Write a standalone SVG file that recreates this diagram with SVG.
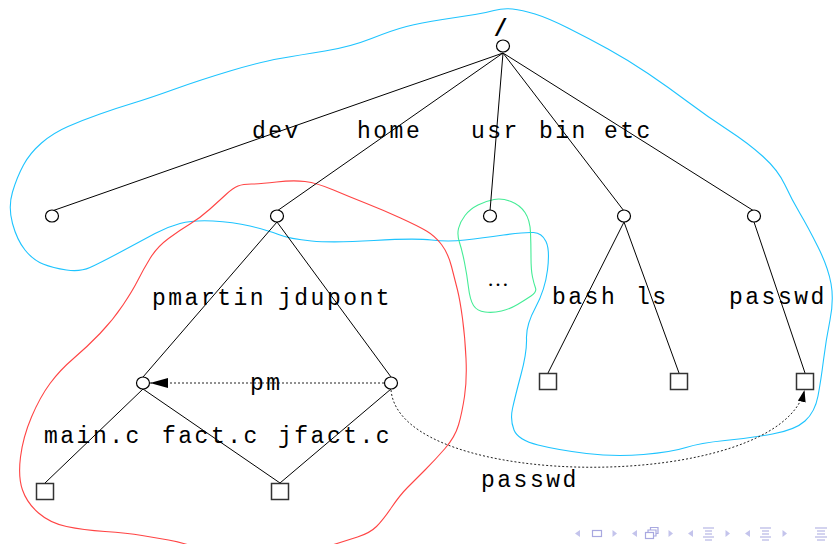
<svg xmlns="http://www.w3.org/2000/svg" width="835" height="544" viewBox="0 0 835 544">
  <style>
    .edge { stroke: #000; stroke-width: 1; fill: none; }
    .link { stroke: #222; stroke-width: 1; fill: none; stroke-dasharray: 2 2; }
    .dir { fill: #fff; stroke: #000; stroke-width: 1.2; }
    .file { fill: #fff; stroke: #333; stroke-width: 1.5; }
    .lbl { font-family: "Liberation Mono", "DejaVu Sans Mono", monospace; font-size: 23px; letter-spacing: 2.5px; fill: #000; }
    .zone { fill: none; stroke-width: 1.1; }
    .nav { fill: #c4c4ec; stroke: none; }
    .navs { fill: none; stroke: #a8a8e0; stroke-width: 1.2; }
  </style>
  <defs>
    <marker id="head" viewBox="0 0 10 10" refX="10" refY="5" markerUnits="userSpaceOnUse" markerWidth="18" markerHeight="10" preserveAspectRatio="none" orient="auto">
      <path d="M0,0 L10,5 L0,10 Z" fill="#000"/>
    </marker>
    <marker id="head-small" viewBox="0 0 10 10" refX="10" refY="5" markerUnits="userSpaceOnUse" markerWidth="12" markerHeight="8" preserveAspectRatio="none" orient="auto">
      <path d="M0,0 L10,5 L0,10 Z" fill="#000"/>
    </marker>
  </defs>
  <rect width="835" height="544" fill="#fff"/>

  <!-- outlined regions of the tree -->
  <g id="regions">
    <path class="zone" stroke="#1ec4ff" d="M512.5,9 Q522,10 535,14 Q548,18 568,28 Q588,38 608,49 Q628,60 648,73.5 Q668,87 688,102 Q708,117 728,130 Q748,143 763,156.5 Q778,170 785,185 Q792,200 800,213.5 Q808,227 818,247 Q828,267 831,283.5 Q834,300 830,320 Q826,340 823.5,360 Q821,380 818,396 Q815,412 805,421 Q795,430 772.5,434 Q750,438 725,440.5 Q700,443 686,447.5 Q672,452 643.5,454.5 Q615,457 586.5,453.5 Q558,450 538,445 Q518,440 514,430 Q510,420 512.5,408.5 Q515,397 521,374.5 Q527,352 526.5,338.5 Q526,325 535.5,307.5 Q545,290 547.5,270 Q550,250 546,241.5 Q542,233 533.5,232.5 Q525,232 503.5,235 Q482,238 465,240 Q448,242 431.5,240 Q415,238 374,240.5 Q333,243 311.5,241 Q290,239 278.5,234.5 Q267,230 250,226 Q233,222 213,221 Q193,220 180,223.5 Q167,227 155,233.5 Q143,240 121.5,251.5 Q100,263 90,267.5 Q80,272 66.5,270 Q53,268 43,264 Q33,260 25,250 Q17,240 12.5,223.5 Q8,207 12.5,192 Q17,177 23.5,165 Q30,153 41.5,143 Q53,133 68,126.5 Q83,120 100,114 Q117,108 133.5,103 Q150,98 175,89 Q200,80 230,71 Q260,62 280,58.5 Q300,55 325,51 Q350,47 371.5,38.5 Q393,30 406.5,26.5 Q420,23 442.5,19.5 Q465,16 475,14.5 Q485,13 494,10.5 Q503,8 512.5,9 Z"/>
    <path class="zone" stroke="#ff4444" d="M251.5,184 Q260,184 276.5,182 Q293,180 305,181.5 Q317,183 333.5,190 Q350,197 366.5,203.5 Q383,210 400.5,218 Q418,226 426.5,231 Q435,236 441.5,244.5 Q448,253 451.5,266.5 Q455,280 457.5,290 Q460,300 462.5,318.5 Q465,337 466,358.5 Q467,380 464.5,396.5 Q462,413 458.5,425 Q455,437 445,448.5 Q435,460 425,470 Q415,480 407.5,487.5 Q400,495 391.5,507.5 Q383,520 376.5,526.5 Q370,533 357.5,537 Q345,541 327.5,546.5 Q310,552 285,555 Q260,558 235,555 Q210,552 195,547 Q180,542 168.5,540 Q157,538 142,535.5 Q127,533 105,531.5 Q83,530 66.5,526.5 Q50,523 38.5,513 Q27,503 22.5,490 Q18,477 20.5,457 Q23,437 31.5,417 Q40,397 50,383.5 Q60,370 73.5,358.5 Q87,347 100,333.5 Q113,320 123,305 Q133,290 138,280 Q143,270 150,258.5 Q157,247 168.5,238.5 Q180,230 190,224 Q200,218 210,209 Q220,200 226.5,194 Q233,188 238,186 Q243,184 251.5,184 Z"/>
    <path class="zone" stroke="#44ec96" d="M478,205 Q486,201 494,199.5 Q502,198 511,201.5 Q520,205 525,212.5 Q530,220 530.5,232.5 Q531,245 531,257.5 Q531,270 532.5,277 Q534,284 535.5,288 Q537,292 531,296 Q525,300 517.5,304.5 Q510,309 501.5,311 Q493,313 485,312 Q477,311 473.5,305.5 Q470,300 468.5,287.5 Q467,275 464.5,262.5 Q462,250 459.5,242.5 Q457,235 458.5,228.5 Q460,222 465,215.5 Q470,209 478,205 Z"/>
  </g>

  <!-- tree edges and links -->
  <g id="connectors">
    <line class="edge" x1="503" y1="53" x2="52" y2="211"/>
    <line class="edge" x1="503" y1="53" x2="277" y2="211"/>
    <line class="edge" x1="503" y1="53" x2="490" y2="211"/>
    <line class="edge" x1="503" y1="53" x2="624" y2="211"/>
    <line class="edge" x1="503" y1="53" x2="754" y2="211"/>
    <line class="edge" x1="277" y1="222" x2="143" y2="377"/>
    <line class="edge" x1="277" y1="222" x2="391" y2="377"/>
    <line class="edge" x1="624" y1="222" x2="548" y2="373"/>
    <line class="edge" x1="624" y1="222" x2="679" y2="373"/>
    <line class="edge" x1="754" y1="222" x2="805" y2="373"/>
    <line class="edge" x1="143" y1="389" x2="45" y2="483"/>
    <line class="edge" x1="143" y1="389" x2="280" y2="483"/>
    <line class="edge" x1="391" y1="389" x2="280" y2="483"/>
    <line class="link" x1="384" y1="383" x2="150" y2="383" marker-end="url(#head)"/>
    <path class="link" d="M391,390 C400,493 780,493 804.5,390" marker-end="url(#head-small)"/>
  </g>

  <!-- directories -->
  <g id="n-root"><ellipse class="dir" cx="503" cy="46" rx="6.5" ry="6"/></g>
  <g id="n-dev"><ellipse class="dir" cx="52" cy="216" rx="6.5" ry="6"/></g>
  <g id="n-home"><ellipse class="dir" cx="277" cy="216" rx="6.5" ry="6"/></g>
  <g id="n-usr"><ellipse class="dir" cx="490" cy="216" rx="6.5" ry="6"/></g>
  <g id="n-bin"><ellipse class="dir" cx="624" cy="216" rx="6.5" ry="6"/></g>
  <g id="n-etc"><ellipse class="dir" cx="754" cy="216" rx="6.5" ry="6"/></g>
  <g id="n-pmartin"><ellipse class="dir" cx="143" cy="383" rx="6.5" ry="6"/></g>
  <g id="n-jdupont"><ellipse class="dir" cx="391" cy="383" rx="6.5" ry="6"/></g>

  <!-- files -->
  <g id="n-main"><rect class="file" x="36.5" y="483.5" width="17" height="16"/></g>
  <g id="n-fact"><rect class="file" x="271.5" y="483.5" width="17" height="16"/></g>
  <g id="n-bash"><rect class="file" x="539.5" y="373.5" width="17" height="16"/></g>
  <g id="n-ls"><rect class="file" x="670.5" y="373.5" width="17" height="16"/></g>
  <g id="n-passwd"><rect class="file" x="796.5" y="373.5" width="17" height="16"/></g>

  <!-- names -->
  <g id="labels">
    <text class="lbl" x="502" y="36" text-anchor="middle" font-weight="bold">/</text>
    <text class="lbl" x="252" y="138">dev</text>
    <text class="lbl" x="357" y="138">home</text>
    <text class="lbl" x="471" y="138">usr</text>
    <text class="lbl" x="539" y="138">bin</text>
    <text class="lbl" x="604" y="138">etc</text>
    <text class="lbl" x="152" y="305">pmartin</text>
    <text class="lbl" x="278" y="305">jdupont</text>
    <text x="487" y="286" font-family="Liberation Serif, serif" font-size="22">…</text>
    <text class="lbl" x="552" y="304">bash</text>
    <text class="lbl" x="636" y="304">ls</text>
    <text class="lbl" x="729" y="304">passwd</text>
    <text class="lbl" x="250" y="390">pm</text>
    <text class="lbl" x="44" y="443">main.c</text>
    <text class="lbl" x="162" y="443">fact.c</text>
    <text class="lbl" x="278" y="443">jfact.c</text>
    <text class="lbl" x="481" y="487">passwd</text>
  </g>

  <!-- navigation symbols -->
  <g id="navigation">
    <path class="nav" d="M575,533.5 L580,530 L580,537 Z"/>
    <rect class="navs" x="592.5" y="530.5" width="9" height="6"/>
    <path class="nav" d="M617,533.5 L612.5,530 L612.5,537 Z"/>
    <path class="nav" d="M632,533.5 L637,530 L637,537 Z"/>
    <rect class="navs" x="645.5" y="532.5" width="8" height="6"/>
    <path class="navs" d="M648,532.5 V530 H656 V536 H653.5 M650.5,530 V527.5 H658 V533.5 H656"/>
    <path class="nav" d="M673,533.5 L668.5,530 L668.5,537 Z"/>
    <path class="nav" d="M688,533.5 L693,530 L693,537 Z"/>
    <path class="navs" d="M703,528 H714 M705,531 H712 M705,534 H712 M703,537 H714 M705,540 H712"/>
    <path class="nav" d="M730,533.5 L725.5,530 L725.5,537 Z"/>
    <path class="nav" d="M745,533.5 L750,530 L750,537 Z"/>
    <path class="navs" d="M760,528 H771 M762,531 H769 M762,534 H769 M760,537 H771 M762,540 H769"/>
    <path class="nav" d="M787,533.5 L782.5,530 L782.5,537 Z"/>
    <path class="navs" d="M815,528 H827 M817,531 H825 M817,534 H825 M815,537 H827 M817,540 H825"/>
  </g>
</svg>
